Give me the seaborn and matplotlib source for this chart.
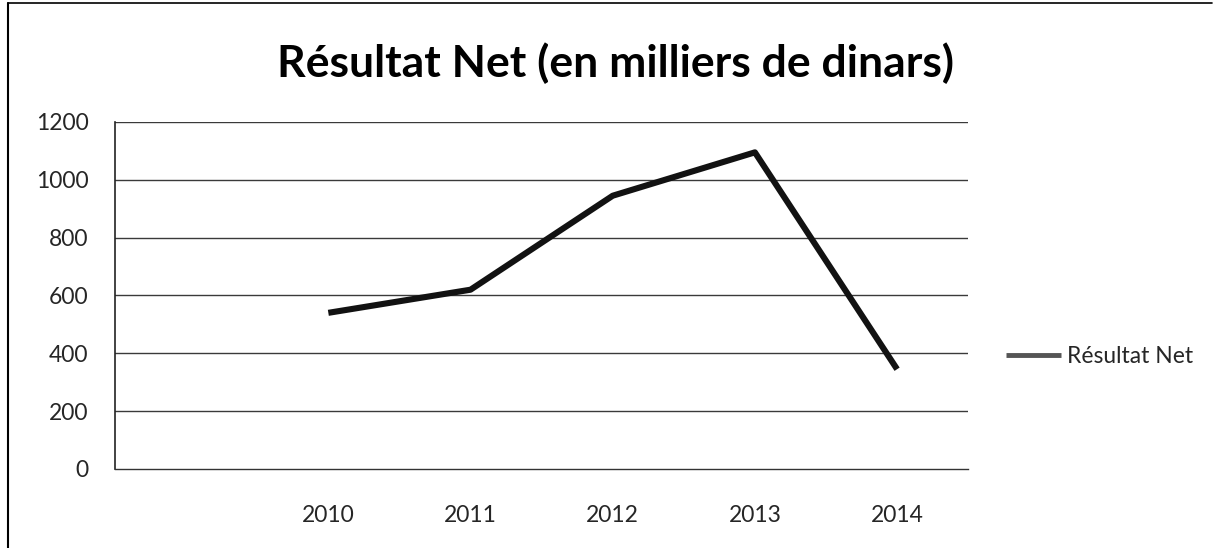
import pandas as pd
import matplotlib
matplotlib.use('Agg')
import matplotlib.pyplot as plt
from matplotlib.lines import Line2D
import seaborn as sns

# values
years = [2010, 2011, 2012, 2013, 2014]
resultat_net = [540, 620, 945, 1095, 345]
yticks = [0, 200, 400, 600, 800, 1000, 1200]
title = 'Résultat Net (en milliers de dinars)'
series_name = 'Résultat Net'

df = pd.DataFrame({'Annee': years, 'Valeur': resultat_net})

sns.set_theme(style='white')
plt.rcParams['font.family'] = ['Lato', 'DejaVu Sans']

fig = plt.figure(figsize=(12.24, 5.48), dpi=100)
ax = fig.add_axes([0.094, 0.1442, 0.697, 0.6332])

# gridlines first so the line sits on top
for v in yticks[1:]:
    ax.axhline(v, color='#3a3a3a', lw=1.0, zorder=1)

sns.lineplot(data=df, x='Annee', y='Valeur', ax=ax, color='#121212', lw=4.4,
             label=series_name, zorder=3, solid_capstyle='butt')

# one empty category slot before 2010, like the Excel original
ax.set_xlim(years[0] - 1.5, years[-1] + 0.5)
ax.set_ylim(0, 1200)
ax.set_yticks(yticks)
ax.set_xticks([y - 0.5 for y in [years[0] - 1] + years] + [years[-1] + 0.5])
ax.set_xticklabels([])
ax.set_xticks(years, minor=True)
ax.set_xticklabels([str(y) for y in years], minor=True)
ax.tick_params(axis='x', which='major', direction='out', length=6, width=1.2, color='#222222')
ax.tick_params(axis='x', which='minor', length=0, pad=26, labelsize=16.5)
ax.tick_params(axis='y', direction='out', length=5, width=1.0, color='#222222',
               pad=14, labelsize=16.5)
ax.set_xlabel('')
ax.set_ylabel('')

for side in ['top', 'right']:
    ax.spines[side].set_visible(False)
ax.spines['left'].set_color('#222222')
ax.spines['left'].set_linewidth(1.2)
ax.spines['bottom'].set_color('#333333')
ax.spines['bottom'].set_linewidth(1.0)

leg = ax.legend(loc='center left', bbox_to_anchor=(0.8125, 0.35),
                bbox_transform=fig.transFigure, frameon=False, fontsize=16.5,
                handlelength=2.4, handletextpad=0.25, borderpad=0)
for h in leg.get_lines():
    h.set_linewidth(3.5)
    h.set_color('#555555')

fig.text(0.503, 0.884, title, ha='center', va='center', fontsize=32,
         fontweight='bold', color='black')

# chart frame edges visible in the scan
fig.add_artist(Line2D([0.0065, 0.0065], [0.0, 0.995], transform=fig.transFigure,
                      color='black', lw=1.5))
fig.add_artist(Line2D([0.0065, 0.99], [0.995, 0.995], transform=fig.transFigure,
                      color='black', lw=1.2))

fig.savefig('out.png', dpi=100, facecolor='white')
